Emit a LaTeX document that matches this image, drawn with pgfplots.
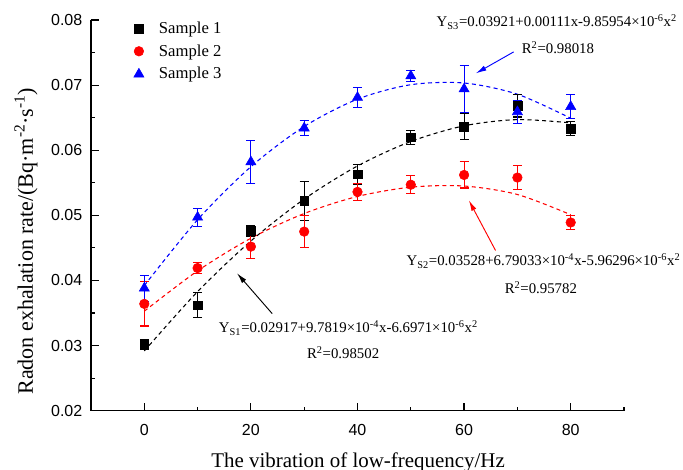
\documentclass[border=0pt]{standalone}
\usepackage{fontspec}
\setmainfont{Liberation Serif}
\newfontfamily\arialfont{Liberation Sans}
\usepackage{pgfplots}
\pgfplotsset{compat=1.18}
\usetikzlibrary{arrows.meta}

\begin{document}
\begin{tikzpicture}
\path[use as bounding box] (-68.25pt,-44.5pt) rectangle (444pt,308pt);
\begin{axis}[
  scale only axis,
  width=399.75pt, height=293pt,
  xmin=-10, xmax=90, ymin=0.02, ymax=0.08,
  axis x line=bottom, axis y line=left,
  axis line style={line width=1.2pt, -},
  tick align=inside,
  major tick length=6pt, minor tick length=3pt,
  tick style={line width=0.9pt, black},
  xtick={0,20,40,60,80}, minor xtick={-10,10,30,50,70,90},
  ytick={0.02,0.03,0.04,0.05,0.06,0.07,0.08},
  minor ytick={0.025,0.035,0.045,0.055,0.065,0.075},
  scaled y ticks=false,
  yticklabel style={/pgf/number format/fixed, /pgf/number format/fixed zerofill,
    /pgf/number format/precision=2, xshift=-3pt},
  /pgf/number format/assume math mode=true,
  tick label style={font=\arialfont\fontsize{12}{14}\selectfont},
  xticklabel style={yshift=-7pt},
  xlabel={The vibration of low-frequency/Hz},
  ylabel={Radon exhalation rate/(Bq·m\textsuperscript{-2}·s\textsuperscript{-1})},
  every axis x label/.style={at={(axis description cs:0.501,0)}, anchor=base, yshift=-42.5pt,
    font=\fontsize{15.7}{18}\selectfont},
  every axis y label/.style={at={(axis description cs:-0.109,0.434)}, anchor=base, rotate=90,
    font=\fontsize{16.5}{19}\selectfont},
  clip=false,
  legend style={at={(rel axis cs:0,1)}, anchor=north west, xshift=24pt, yshift=3pt,
    draw=none, fill=none, font=\fontsize{12.5}{15}\selectfont, row sep=3pt,
    cells={anchor=west}},
  legend image code/.code={\draw[mark repeat=2,mark phase=2,#1] plot coordinates {(0cm,0cm) (0.3cm,0cm) (0.6cm,0cm)};
    \path (0cm,0cm) (0.75cm,0cm);},
]
% fitted quadratics (drawn as on the chart)
\addplot[black, dashed, line width=0.8pt, dash pattern=on 3pt off 2.5pt, smooth, forget plot] coordinates {
  (0,0.02917) (10,0.03828) (20,0.04606) (30,0.05249) (40,0.05758)
  (50,0.06134) (60,0.06375) (70,0.06470) (80,0.06420)
};
\addplot[red, dashed, line width=0.8pt, dash pattern=on 3pt off 2.5pt, smooth, forget plot] coordinates {
  (0,0.03528) (10,0.04147) (20,0.04648) (30,0.05028) (40,0.05290)
  (50,0.05432) (60,0.05450) (70,0.05320) (80,0.05010)
};
\addplot[blue, dashed, line width=0.8pt, dash pattern=on 3pt off 2.5pt, smooth, forget plot] coordinates {
  (0,0.03921) (10,0.04932) (20,0.05747) (30,0.06364) (40,0.06784)
  (50,0.07006) (60,0.07032) (70,0.06860) (80,0.06491)
};
% Sample 1
\addplot[black, only marks, mark=square*, mark size=3.3pt,
  error bars/.cd, y dir=both, y explicit,
  error bar style={line width=0.8pt, black},
  error mark options={rotate=90, mark size=3.4pt, line width=0.8pt}]
  coordinates {
  (0,0.0302) +- (0,0.0008)
  (10,0.0362) +- (0,0.0019)
  (20,0.0476) +- (0,0.0008)
  (30,0.0522) +- (0,0.0030)
  (40,0.0563) +- (0,0.0015)
  (50,0.0620) +- (0,0.0011)
  (60,0.0636) +- (0,0.0020)
  (70,0.0668) +- (0,0.0017)
  (80,0.0633) +- (0,0.0011)
};
\addlegendentry{Sample 1}
% Sample 2
\addplot[red, only marks, mark=*, mark size=3.6pt,
  error bars/.cd, y dir=both, y explicit,
  error bar style={line width=0.8pt, red},
  error mark options={rotate=90, mark size=3.4pt, line width=0.8pt}]
  coordinates {
  (0,0.0364) +- (0,0.0034)
  (10,0.0419) +- (0,0.0009)
  (20,0.0452) +- (0,0.0018)
  (30,0.0475) +- (0,0.0025)
  (40,0.0536) +- (0,0.0013)
  (50,0.0547) +- (0,0.0014)
  (60,0.0562) +- (0,0.0020)
  (70,0.0558) +- (0,0.0019)
  (80,0.0489) +- (0,0.0011)
};
\addlegendentry{Sample 2}
% Sample 3
\addplot[blue, only marks, mark=triangle*, mark size=4.4pt,
  error bars/.cd, y dir=both, y explicit,
  error bar style={line width=0.8pt, blue},
  error mark options={rotate=90, mark size=3.4pt, line width=0.8pt}]
  coordinates {
  (0,0.0388) +- (0,0.0020)
  (10,0.0497) +- (0,0.0014)
  (20,0.0582) +- (0,0.0033)
  (30,0.0634) +- (0,0.0011)
  (40,0.0681) +- (0,0.0015)
  (50,0.0714) +- (0,0.0009)
  (60,0.0694) +- (0,0.0036)
  (70,0.0659) +- (0,0.0018)
  (80,0.0667) +- (0,0.0019)
};
\addlegendentry{Sample 3}

\begin{scope}[every node/.style={font=\fontsize{11.1}{13}\selectfont, inner sep=0pt}]
\node at (axis cs:77.4,0.0797) {Y\textsubscript{S3}=0.03921+0.00111x-9.85954×10\textsuperscript{-6}x\textsuperscript{2}};
\node at (axis cs:77.6,0.0757) {R\textsuperscript{2}=0.98018};
\node at (axis cs:74.9,0.0430) {Y\textsubscript{S2}=0.03528+6.79033×10\textsuperscript{-4}x-5.96296×10\textsuperscript{-6}x\textsuperscript{2}};
\node at (axis cs:74.4,0.0389) {R\textsuperscript{2}=0.95782};
\node at (axis cs:38.3,0.0327) {Y\textsubscript{S1}=0.02917+9.7819×10\textsuperscript{-4}x-6.6971×10\textsuperscript{-6}x\textsuperscript{2}};
\node at (axis cs:37.3,0.0289) {R\textsuperscript{2}=0.98502};
\end{scope}
\draw[blue, line width=0.7pt, -{Latex[length=8pt,width=4pt]}] (axis cs:69.3,0.0751) -- (axis cs:62.2,0.0718);
\draw[red, line width=0.7pt, -{Latex[length=8pt,width=4pt]}] (axis cs:65.9,0.0446) -- (axis cs:60.9,0.0523);
\draw[black, line width=0.7pt, -{Latex[length=8pt,width=4pt]}] (axis cs:24.0,0.0349) -- (axis cs:17.4,0.0411);
\end{axis}
\end{tikzpicture}
\end{document}
